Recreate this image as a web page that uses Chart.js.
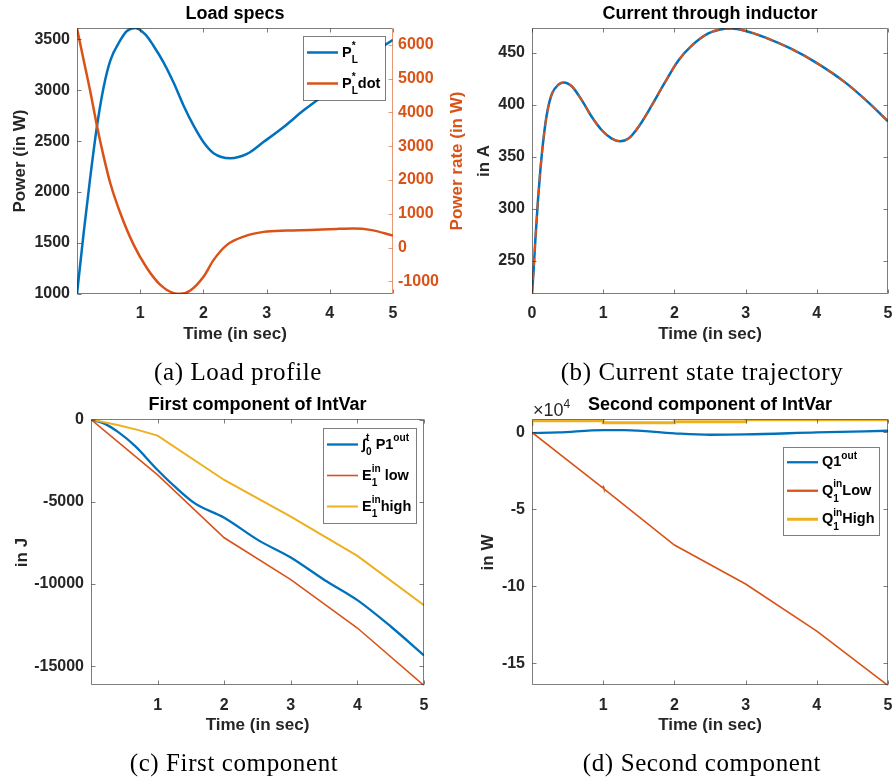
<!DOCTYPE html>
<html>
<head>
<meta charset="utf-8">
<title>IntVar results</title>
<script src="https://cdn.jsdelivr.net/npm/chart.js@4.4.0/dist/chart.umd.min.js"></script>
<style>
  body { margin: 0; background: #fff; }
  #wrap { position: relative; width: 893px; height: 781px; }
  #wrap canvas { position: absolute; left: 0; top: 0; }
</style>
</head>
<body>
<div id="wrap">
  <canvas id="loadChart" width="893" height="781"></canvas>
  <canvas id="currentChart" width="893" height="781"></canvas>
  <canvas id="firstChart" width="893" height="781"></canvas>
  <canvas id="secondChart" width="893" height="781"></canvas>
</div>
<script>
// (a) load profile
let tLoad = [0, 0.105, 0.211, 0.316, 0.422, 0.527, 0.686, 0.79, 0.922, 1.08, 1.212, 1.371, 1.528, 1.687, 1.845, 2.003, 2.161, 2.425, 2.69, 2.954, 3.270, 3.586, 3.850, 4.2, 4.6, 5.0]
let loadPower = [1000, 1598, 2151, 2646, 3031, 3290, 3490, 3580, 3610, 3547, 3434, 3271, 3075, 2848, 2652, 2489, 2382, 2333, 2375, 2493, 2639, 2802, 2926, 3110, 3325, 3495]
let tRate = [0, 0.105, 0.211, 0.316, 0.422, 0.527, 0.686, 0.897, 1.108, 1.319, 1.530, 1.635, 1.793, 2.004, 2.162, 2.373, 2.637, 2.954, 3.323, 3.692, 4.114, 4.378, 4.641, 5.0]
let loadRate = [6489, 5552, 4615, 3600, 2692, 1903, 1016, 79, -611, -1105, -1351, -1371, -1272, -858, -365, 79, 325, 464, 503, 523, 552, 562, 523, 355]

// (b) inductor current
let tCurrent = [0, 0.023, 0.047, 0.084, 0.117, 0.164, 0.210, 0.280, 0.374, 0.444, 0.561, 0.701, 0.841, 0.981, 1.121, 1.238, 1.355, 1.495, 1.682, 1.869, 2.056, 2.243, 2.477, 2.710, 2.80, 2.991, 3.271, 3.645, 4.019, 4.393, 4.720, 5.0]
let currentL = [218.4, 241.4, 270, 308.5, 337, 369, 391.5, 410.7, 419.6, 421.6, 417.7, 404.3, 388.3, 375.6, 367.6, 365, 367.6, 378.8, 399.5, 421.9, 442.7, 457, 468.8, 473.3, 473.6, 471.4, 465, 453.8, 439.5, 421.9, 402.7, 384.2]

// (c) first component
let tP1 = [0, 0.21, 0.41, 0.66, 0.985, 1.26, 1.56, 2, 2.51, 3, 3.51, 4.01, 4.51, 5]
let p1Out = [0, -264, -772, -1606, -3008, -4085, -5102, -5976, -7337, -8394, -9776, -11016, -12622, -14350]
let tE1Low = [0, 1, 2, 3, 4, 5]
let e1Low = [0, -3374, -7195, -9736, -12683, -16179]
let tE1High = [0, 0.4, 0.7, 1, 2, 3, 4, 5]
let e1High = [0, -330, -630, -976, -3679, -5915, -8293, -11301]

// (d) second component
let tQ1Out = [0, 0.37, 1.0, 1.3, 2.0, 2.5, 3.0, 4.0, 5.0]
let q1Out = [-400, 0, 1500, 1500, -600, -1500, -1300, 0, 1100]
let tQ1Low = [0, 0.99, 1.0, 1.01, 2, 3, 4, 5]
let q1Low = [0, -35800, -35200, -36600, -73100, -98400, -129000, -164300]
let tQ1High = [0, 1, 2, 3, 4, 5]
let q1High = [4300, 7600, 6300, 6900, 8300, 8300]

// tick labels
let xTicksNoZero = [1, 2, 3, 4, 5]
let xTicksAll = [0, 1, 2, 3, 4, 5]
let yTicksLoad = [1000, 1500, 2000, 2500, 3000, 3500]
let yTicksRate = [-1000, 0, 1000, 2000, 3000, 4000, 5000, 6000]
let yTicksCurrent = [250, 300, 350, 400, 450]
let yTicksFirst = [-15000, -10000, -5000, 0]
let yTicksSecond = [-150000, -100000, -50000, 0]

const FONT = '"Liberation Sans", Arial, sans-serif'
const INK = "#262626"
const FRAME = "rgba(38,38,38,0.6)"
const BLUE = "#0072BD"
const ORANGE = "#D95319"
const YELLOW = "#EDB120"
const Y_W = 70
const Y2_W = 60
const X_H = 30

function pts(xs, ys) {
    return xs.map((x, i) => ({ x: x, y: ys[i] }))
}

function series(label, xs, ys, color, width, extra) {
    return Object.assign({
        label: label,
        data: pts(xs, ys),
        borderColor: color,
        backgroundColor: color,
        borderWidth: width,
        pointRadius: 0,
        fill: false,
        tension: 0
    }, extra || {})
}

// normal text plus stacked super/subscripts, vertically centred on y
function drawRich(ctx, parts, x, y, size, measureOnly) {
    let cx = x
    for (let p of parts) {
        if (typeof p === "string") {
            ctx.font = "bold " + size + "px " + FONT
            if (!measureOnly) ctx.fillText(p, cx, y)
            cx += ctx.measureText(p).width
        } else {
            ctx.font = "bold " + (size * 0.7) + "px " + FONT
            let w = 0
            if (p.sup) {
                if (!measureOnly) ctx.fillText(p.sup, cx, y - size * 0.45)
                w = ctx.measureText(p.sup).width
            }
            if (p.sub) {
                if (!measureOnly) ctx.fillText(p.sub, cx, y + size * 0.55)
                w = Math.max(w, ctx.measureText(p.sub).width)
            }
            cx += w
        }
    }
    return cx - x
}

function drawLegend(ctx, a, lg) {
    ctx.textAlign = "left"
    ctx.textBaseline = "middle"
    let tw = 0
    for (let it of lg.items) tw = Math.max(tw, drawRich(ctx, it.parts, 0, 0, 14.5, true))
    let w = Math.round(4 + 31 + 4 + tw + 5)
    let h = Math.round(lg.rowH * lg.items.length + 2)
    let x0 = Math.round(a.right - lg.inset - w)
    let y0 = Math.round(a.top + lg.top)
    ctx.fillStyle = "#fff"
    ctx.fillRect(x0, y0, w, h)
    ctx.strokeStyle = FRAME
    ctx.lineWidth = 1
    ctx.strokeRect(x0 + 0.5, y0 + 0.5, w, h)
    lg.items.forEach((it, i) => {
        let y = y0 + 1 + lg.rowH * (i + 0.5)
        ctx.strokeStyle = it.color
        ctx.lineWidth = it.width
        ctx.beginPath()
        ctx.moveTo(x0 + 4, y)
        ctx.lineTo(x0 + 35, y)
        ctx.stroke()
        ctx.fillStyle = "#000"
        drawRich(ctx, it.parts, x0 + 39, y, 14.5, false)
    })
}

function vText(ctx, text, x, y, color) {
    ctx.save()
    ctx.translate(x, y)
    ctx.rotate(-Math.PI / 2)
    ctx.fillStyle = color
    ctx.font = "bold 17px " + FONT
    ctx.textAlign = "center"
    ctx.textBaseline = "middle"
    ctx.fillText(text, 0, 0)
    ctx.restore()
}

// box, inward ticks, legend and all the labels round one axes
function makeDecor(o) {
    return {
        id: "decor",
        afterDatasetsDraw(chart) {
            let ctx = chart.ctx
            let a = chart.chartArea
            let sx = chart.scales.x, sy = chart.scales.y, sy2 = chart.scales.y2
            let cx = (a.left + a.right) / 2
            let cy = (a.top + a.bottom) / 2
            let L = 4
            ctx.save()
            if (o.legend) drawLegend(ctx, a, o.legend)

            let l = Math.floor(a.left) + 0.5, r = Math.floor(a.right) - 0.5
            let t = Math.floor(a.top) + 0.5, b = Math.floor(a.bottom) - 0.5
            ctx.lineWidth = 1
            ctx.strokeStyle = FRAME
            ctx.beginPath()
            ctx.moveTo(r, t); ctx.lineTo(l, t); ctx.lineTo(l, b); ctx.lineTo(r, b)
            if (!sy2) ctx.lineTo(r, t)
            for (let v of o.xTicks) {
                let p = Math.round(sx.getPixelForValue(v)) + 0.5
                ctx.moveTo(p, b); ctx.lineTo(p, b - L)
                ctx.moveTo(p, t); ctx.lineTo(p, t + L)
            }
            for (let v of o.yTicks) {
                let p = Math.round(sy.getPixelForValue(v)) + 0.5
                ctx.moveTo(l, p); ctx.lineTo(l + L, p)
                if (!sy2) { ctx.moveTo(r, p); ctx.lineTo(r - L, p) }
            }
            ctx.stroke()
            if (sy2) {
                ctx.strokeStyle = "rgba(217,83,25,0.6)"
                ctx.beginPath()
                ctx.moveTo(r, t); ctx.lineTo(r, b)
                for (let v of o.y2Ticks) {
                    let p = Math.round(sy2.getPixelForValue(v)) + 0.5
                    ctx.moveTo(r, p); ctx.lineTo(r - L, p)
                }
                ctx.stroke()
            }

            ctx.textAlign = "center"
            ctx.textBaseline = "middle"
            ctx.fillStyle = "#000"
            ctx.font = "bold 18px " + FONT
            ctx.fillText(o.title, cx, a.top - 14)
            ctx.fillStyle = INK
            ctx.font = "bold 17px " + FONT
            ctx.fillText("Time (in sec)", cx, a.bottom + 40)
            vText(ctx, o.yLabel, a.left - o.yLabelGap, cy, INK)
            if (o.y2Label) vText(ctx, o.y2Label, a.right + 64, cy, ORANGE)

            if (o.exponent) {
                ctx.textAlign = "left"
                ctx.fillStyle = INK
                ctx.font = "18px " + FONT
                ctx.fillText("\u00d710", a.left + 1, a.top - 8.5)
                let w = ctx.measureText("\u00d710").width
                ctx.font = "12px " + FONT
                ctx.fillText(o.exponent, a.left + 1 + w, a.top - 15)
            }

            ctx.textAlign = "center"
            ctx.fillStyle = "#000"
            ctx.font = '25px "Liberation Serif", serif'
            ctx.letterSpacing = "0.6px"
            ctx.fillText(o.caption, o.captionX, a.bottom + 79)
            ctx.restore()
        }
    }
}

function tickFont() {
    return { family: FONT, size: 16, weight: "bold" }
}

function yAxis(position, min, max, ticks, color, width, pad, fmt) {
    return {
        type: "linear", position: position, min: min, max: max,
        grid: { display: false, drawTicks: false, tickLength: 0 }, border: { display: false },
        afterBuildTicks: s => { s.ticks = ticks.map(v => ({ value: v })) },
        afterFit: s => { s.width = width },
        ticks: { font: tickFont(), color: color, padding: pad, autoSkip: false, callback: fmt || (v => String(v)) }
    }
}

function panel(id, area, datasets, o) {
    let scales = {
        x: {
            type: "linear", min: 0, max: 5,
            grid: { display: false, drawTicks: false, tickLength: 0 }, border: { display: false },
            afterBuildTicks: s => { s.ticks = o.xTicks.map(v => ({ value: v })) },
            // keep the end labels from pushing the plot box inwards
            afterFit: s => { s.height = X_H; s.paddingLeft = 0; s.paddingRight = 0 },
            ticks: { font: tickFont(), color: INK, padding: 10, autoSkip: false, maxRotation: 0, callback: v => String(v) }
        },
        y: yAxis("left", o.yMin, o.yMax, o.yTicks, INK, Y_W, 7, o.yFmt)
    }
    if (o.y2Ticks) scales.y2 = yAxis("right", o.y2Min, o.y2Max, o.y2Ticks, ORANGE, Y2_W, 5)
    new Chart(document.getElementById(id), {
        type: "line",
        data: { datasets: datasets },
        options: {
            responsive: false,
            animation: false,
            events: [],
            layout: {
                padding: {
                    left: area.l - Y_W,
                    top: area.t,
                    right: 893 - area.r - (o.y2Ticks ? Y2_W : 0),
                    bottom: 781 - area.b - X_H
                }
            },
            plugins: { legend: { display: false }, tooltip: { enabled: false } },
            scales: scales
        },
        plugins: [makeDecor(o)]
    })
}

const smooth = { cubicInterpolationMode: "monotone" }

panel("loadChart", { l: 77, t: 28, r: 393, b: 294 }, [
    series("P_L*", tLoad, loadPower, BLUE, 2.5, Object.assign({ order: 2 }, smooth)),
    series("P_L* dot", tRate, loadRate, ORANGE, 2.5, Object.assign({ order: 1, yAxisID: "y2" }, smooth))
], {
    title: "Load specs", yLabel: "Power (in W)", yLabelGap: 57, y2Label: "Power rate (in W)",
    caption: "(a) Load profile", captionX: 238,
    xTicks: xTicksNoZero, yTicks: yTicksLoad, yMin: 1000, yMax: 3610,
    y2Ticks: yTicksRate, y2Min: -1375, y2Max: 6500,
    legend: {
        inset: 8, top: 8, rowH: 31,
        items: [
            { color: BLUE, width: 2.5, parts: ["P", { sup: "*", sub: "L" }] },
            { color: ORANGE, width: 2.5, parts: ["P", { sup: "*", sub: "L" }, "dot"] }
        ]
    }
})

panel("currentChart", { l: 532, t: 28, r: 888, b: 294 }, [
    series("i_L", tCurrent, currentL, BLUE, 2.5, Object.assign({ order: 2 }, smooth)),
    series("i_L ref", tCurrent, currentL, ORANGE, 2, Object.assign({ order: 1, borderDash: [8, 6] }, smooth))
], {
    title: "Current through inductor", yLabel: "in A", yLabelGap: 48,
    caption: "(b) Current state trajectory", captionX: 702,
    xTicks: xTicksAll, yTicks: yTicksCurrent, yMin: 218, yMax: 474
})

panel("firstChart", { l: 91, t: 419.5, r: 424, b: 685.5 }, [
    series("int P1out", tP1, p1Out, BLUE, 2.3, Object.assign({ order: 3 }, smooth)),
    series("E1in low", tE1Low, e1Low, ORANGE, 1.6, { order: 2 }),
    series("E1in high", tE1High, e1High, YELLOW, 2, { order: 1 })
], {
    title: "First component of IntVar", yLabel: "in J", yLabelGap: 69,
    caption: "(c) First component", captionX: 234,
    xTicks: xTicksNoZero, yTicks: yTicksFirst, yMin: -16180, yMax: 0,
    legend: {
        inset: 8, top: 8.5, rowH: 31,
        items: [
            { color: BLUE, width: 2.3, parts: ["\u222b", { sup: "t", sub: "0" }, " P1", { sup: "out" }] },
            { color: ORANGE, width: 1.6, parts: ["E", { sup: "in", sub: "1" }, " low"] },
            { color: YELLOW, width: 2, parts: ["E", { sup: "in", sub: "1" }, "high"] }
        ]
    }
})

panel("secondChart", { l: 532, t: 419.5, r: 888, b: 685.5 }, [
    series("Q1out", tQ1Out, q1Out, BLUE, 2.3, Object.assign({ order: 3 }, smooth)),
    series("Q1in low", tQ1Low, q1Low, ORANGE, 1.6, { order: 2 }),
    series("Q1in high", tQ1High, q1High, YELLOW, 3, { order: 1, stepped: "after" })
], {
    title: "Second component of IntVar", yLabel: "in W", yLabelGap: 44,
    caption: "(d) Second component", captionX: 702, exponent: "4",
    xTicks: xTicksNoZero, yTicks: yTicksSecond, yMin: -164300, yMax: 8400,
    yFmt: v => String(v / 10000),
    legend: {
        inset: 9, top: 27.5, rowH: 28.5,
        items: [
            { color: BLUE, width: 2.3, parts: ["Q1", { sup: "out" }] },
            { color: ORANGE, width: 2.3, parts: ["Q", { sup: "in", sub: "1" }, "Low"] },
            { color: YELLOW, width: 3, parts: ["Q", { sup: "in", sub: "1" }, "High"] }
        ]
    }
})
</script>
</body>
</html>
